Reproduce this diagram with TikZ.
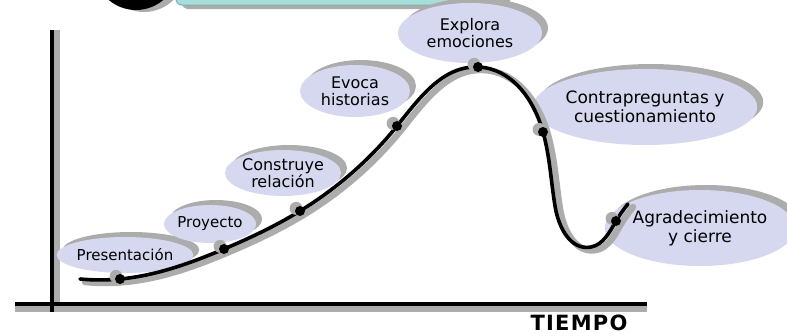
\documentclass[tikz,border=0pt]{standalone}
\usepackage{fontspec}
\setmainfont{DejaVu Sans}
\usetikzlibrary{shapes.geometric,shadows,hobby}
\definecolor{bubblefill}{RGB}{214,216,240}
\definecolor{shadowgray}{RGB}{172,172,172}
\definecolor{barfill}{RGB}{168,222,218}
\definecolor{barline}{RGB}{122,178,175}
\begin{document}
\begin{tikzpicture}[x=1pt,y=-1pt]
	% line widths
	\def\lw{3.6pt}
	\def\sw{6.5pt}
	% node style definition
	\tikzstyle{bubble} = [ellipse, fill=bubblefill, inner sep=0pt, align=center, font=\fontsize{15}{16}\selectfont, drop shadow={shadow xshift=6pt, shadow yshift=5pt, fill=shadowgray, opacity=1}];
	\tikzstyle{dot} = [circle, fill=black, inner sep=0pt, minimum size=10pt, drop shadow={shadow xshift=-3pt, shadow yshift=2pt, shadow scale=1.3, fill=shadowgray, opacity=1}];
	\tikzstyle{curve} = [draw=black, line width=\lw, line cap=round, use Hobby shortcut];
	\tikzstyle{curveshadow} = [draw=shadowgray, line width=\sw, line cap=round, use Hobby shortcut];
	\tikzstyle{axis} = [draw=black, line width=\lw];
	\tikzstyle{axisshadow} = [draw=shadowgray, line width=\sw];
	\useasboundingbox (0,0) rectangle (787,335);
	% banner at the top
	\fill[shadowgray] (144,-30) circle (42);
	\fill[black] (136,-32) circle (42);
	\fill[shadowgray, rounded corners=6pt] (182,-20) rectangle (510,9);
	\draw[barline, fill=barfill, rounded corners=6pt, line width=1pt] (176,-20) rectangle (505,5);
	% axes
	\coordinate (ytop) at (52,30);
	\coordinate (ybot) at (52,312);
	\coordinate (xleft) at (15,304);
	\coordinate (xright) at (647,304);
	\draw[axisshadow] ([xshift=5pt]ytop) -- ([xshift=5pt]ybot);
	\draw[axisshadow] ([yshift=-5pt]xleft) -- ([yshift=-5pt]xright);
	\draw[axis] (ytop) -- (ybot);
	\draw[axis] (xleft) -- (xright);
	\node[font=\fontsize{21}{22}\selectfont\bfseries\addfontfeature{LetterSpace=6}, inner sep=0pt] (tiempo) at (579,323) {TIEMPO};
	% bubbles
	\node[bubble, minimum width=100, minimum height=36] (pres) at (125,255) {Presentación};
	\node[bubble, minimum width=86, minimum height=38] (proy) at (210,224) {Proyecto};
	\node[bubble, minimum width=116, minimum height=46, font=\fontsize{16}{17}\selectfont] (const) at (283,173) {Construye\\relación};
	\node[bubble, minimum width=110, minimum height=52, font=\fontsize{16}{17}\selectfont] (evoca) at (355,91) {Evoca\\historias};
	\node[bubble, minimum width=144, minimum height=60, font=\fontsize{16}{17}\selectfont] (explora) at (470,33) {Explora\\emociones};
	\node[bubble, minimum width=176, minimum height=76, font=\fontsize{17}{19}\selectfont] (contra) at (645,107) {Contrapreguntas y\\cuestionamiento};
	\node[bubble, minimum width=170, minimum height=76, font=\fontsize{17}{19}\selectfont] (agrad) at (700,228) {Agradecimiento\\y cierre};
	% points on the curve
	\coordinate (c0) at (80,279);
	\coordinate (cPres) at (120,279);
	\coordinate (cProy) at (224,249);
	\coordinate (cConst) at (300,211);
	\coordinate (cEvoca) at (397,126);
	\coordinate (cExplora) at (478,67);
	\coordinate (cContra) at (543,132);
	\coordinate (c1) at (555,206);
	\coordinate (c2) at (591,247);
	\coordinate (cAgrad) at (616,221);
	\coordinate (c3) at (628,204);
	\draw[curveshadow, transform canvas={xshift=5pt, yshift=-3pt}] (c0) .. (cPres) .. (cProy) .. (cConst) .. (cEvoca) .. (cExplora) .. (cContra) .. (c1) .. (c2) .. (cAgrad) .. (c3);
	\draw[curve] (c0) .. (cPres) .. (cProy) .. (cConst) .. (cEvoca) .. (cExplora) .. (cContra) .. (c1) .. (c2) .. (cAgrad) .. (c3);
	% dots
	\node[dot] (presdot) at (cPres) {};
	\node[dot] (proydot) at (cProy) {};
	\node[dot] (constdot) at (cConst) {};
	\node[dot] (evocadot) at (cEvoca) {};
	\node[dot] (exploradot) at (cExplora) {};
	\node[dot] (contradot) at (cContra) {};
	\node[dot] (agraddot) at (cAgrad) {};
\end{tikzpicture}
\end{document}
